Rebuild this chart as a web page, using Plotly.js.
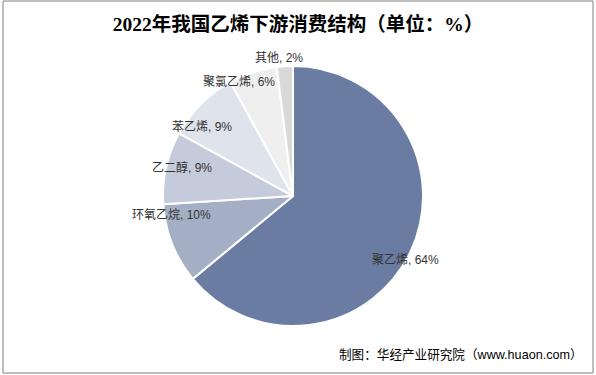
<!DOCTYPE html>
<html>
<head>
<meta charset="utf-8">
<script src="https://cdn.plot.ly/plotly-3.0.1.min.js"></script>
<style>html,body{margin:0;padding:0;background:#fff;}#chart{width:596px;height:375px;}</style>
</head>
<body>
<div id="chart"></div>
<script>
const categories = ["聚乙烯", "环氧乙烷", "乙二醇", "苯乙烯", "聚氯乙烯", "其他"];
const shares = [64, 10, 9, 9, 6, 2];
const colors = ["#6A7CA2", "#A4AFC6", "#C5CBDB", "#DFE3EC", "#EFEFF0", "#D9D9D9"];
// label anchor positions in pixels (layout only)
const labelPx = [[405, 260], [171, 215], [182, 168], [202, 127], [239, 82], [279, 58]];

const W = 596, H = 375;
const annotations = categories.map((c, i) => ({
  text: c + ", " + shares[i] + "%",
  x: labelPx[i][0] / W, y: 1 - labelPx[i][1] / H,
  xref: "paper", yref: "paper", xanchor: "center", yanchor: "middle",
  showarrow: false,
  font: {family: "Arial, 'Noto Sans CJK SC', sans-serif", size: 12, color: "#333333"}
}));
annotations.push({
  text: "制图：华经产业研究院（www.huaon.com）",
  x: 585 / W, y: 1 - 355 / H, xref: "paper", yref: "paper",
  xanchor: "right", yanchor: "middle", showarrow: false,
  font: {family: "Arial, 'Noto Sans CJK SC', sans-serif", size: 12.6, color: "#000"}
});

const data = [{
  type: "pie",
  labels: categories,
  values: shares,
  sort: false,
  direction: "clockwise",
  rotation: 0,
  textinfo: "none",
  hoverinfo: "none",
  marker: {colors: colors, line: {color: "#ffffff", width: 2}},
  domain: {x: [163 / W, 423 / W], y: [1 - 326 / H, 1 - 66 / H]}
}];

const layout = {
  width: W, height: H,
  margin: {l: 0, r: 0, t: 0, b: 0},
  paper_bgcolor: "#fff",
  showlegend: false,
  title: {
    text: "<b>2022年我国乙烯下游消费结构（单位：%）</b>",
    x: 0.5, xanchor: "center", y: 1 - 24 / H, yanchor: "middle",
    font: {family: "'Liberation Serif', 'Noto Sans CJK SC', serif", size: 19.5, color: "#000"}
  },
  annotations: annotations,
  shapes: [{
    type: "rect", xref: "paper", yref: "paper",
    x0: 3 / W, x1: 593 / W, y0: 1 - 373 / H, y1: 1 - 1 / H,
    line: {color: "#808080", width: 1}, fillcolor: "rgba(0,0,0,0)"
  }]
};

Plotly.newPlot("chart", data, layout, {displayModeBar: false, staticPlot: true});
</script>
</body>
</html>
